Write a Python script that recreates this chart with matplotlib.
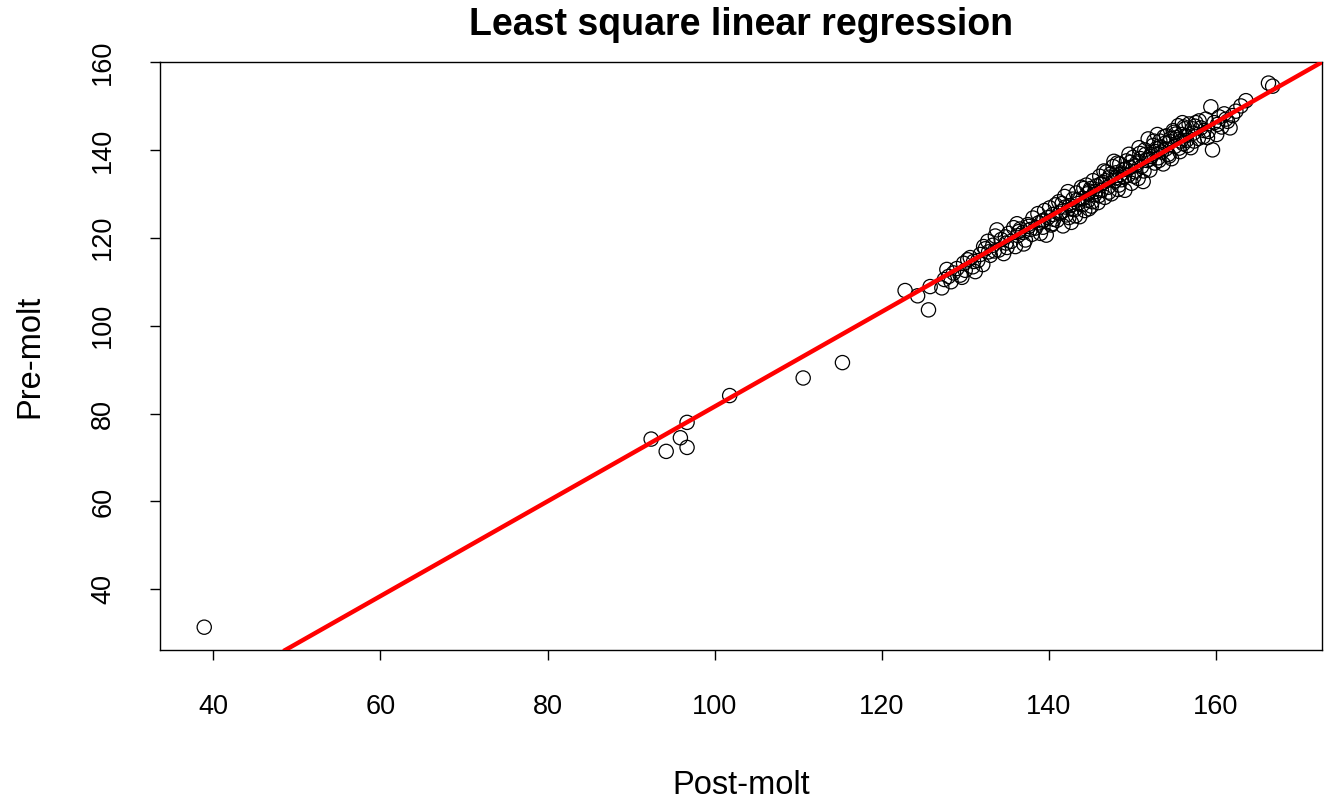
import numpy as np
import matplotlib.pyplot as plt

plt.rcParams['font.family'] = ['Liberation Sans', 'DejaVu Sans']

# crab molt data (post-molt size vs pre-molt size)
post_molt = [
    38.9, 92.4, 94.2, 95.9, 96.7, 96.7, 101.8, 110.6, 115.3,
    122.8, 124.3, 125.6, 125.8, 127.2,
    127.5, 127.8, 128.0, 128.3, 128.6, 129.0, 129.4, 129.8, 130.0, 130.3,
    130.6, 130.9, 131.2, 131.5, 131.8, 132.1, 132.4, 132.7, 133.0, 133.3, 133.6,
    133.8, 134.0, 134.3, 134.6, 134.9, 135.2, 135.5, 135.8, 136.0, 136.3, 136.6,
    136.9, 137.2, 137.5, 137.8, 138.1, 138.4, 138.7, 139.0, 139.2, 139.5, 139.7, 139.9,
    140.1, 140.3, 140.5, 140.8, 141.0, 141.2, 141.5, 141.7, 141.9, 142.1, 142.3, 142.5, 142.7, 142.9,
    143.1, 143.3, 143.5, 143.7, 143.9, 144.1, 144.3, 144.5, 144.7, 144.9, 145.1, 145.3, 145.5, 145.7, 145.9,
    146.1, 146.3, 146.5, 146.7, 146.9, 147.1, 147.3, 147.5, 147.7, 147.9, 148.1, 148.3, 148.5, 148.7, 148.9,
    149.1, 149.3, 149.5, 149.7, 149.9, 150.1, 150.3, 150.5, 150.7, 150.9, 151.1, 151.3, 151.5, 151.7, 151.9,
    152.1, 152.3, 152.5, 152.7, 152.9, 153.1, 153.3, 153.5, 153.7, 153.9, 154.1, 154.3, 154.5, 154.7, 154.9,
    155.1, 155.3, 155.5, 155.7, 155.9, 156.1, 156.3, 156.5, 156.8, 157.0, 157.3, 157.6, 157.9,
    158.2, 158.5, 158.8, 159.1, 159.4, 159.6, 159.8, 160.1, 160.4, 160.7, 161.0, 161.4, 161.7, 162.0,
    162.4, 163.0, 163.6, 166.3, 166.8,
    140.6, 141.3, 142.0, 142.8, 143.4, 144.0, 144.6, 145.0, 145.6, 146.2,
    146.8, 147.4, 148.0, 148.6, 149.2, 149.8, 150.4, 151.0, 151.6, 152.2,
    152.8, 153.4, 154.0, 154.6, 155.2, 155.8, 156.4, 157.2, 134.8, 136.4,
    137.6, 138.8, 139.4, 131.0, 132.8, 156.0, 157.5, 153.0, 148.2,
    138.0, 139.3, 140.4, 141.6, 142.4, 143.2, 144.2, 145.2, 146.0, 146.6,
    147.2, 147.8, 148.4, 149.0, 149.6, 150.2, 150.8, 151.4, 152.0, 152.6,
    153.2, 153.8, 154.4, 155.0, 155.6, 156.2, 156.6, 157.4, 158.0, 158.6,
    135.0, 136.2, 137.0, 133.5, 132.2, 129.6, 160.2, 161.2, 159.0, 144.8,
]
pre_molt = [
    31.4, 74.2, 71.4, 74.5, 78.0, 72.3, 84.1, 88.1, 91.6,
    108.0, 106.8, 103.6, 108.9, 108.6,
    110.5, 112.8, 111.2, 110.0, 112.0, 113.0, 111.5, 114.2, 112.6, 115.0,
    115.5, 113.4, 112.3, 114.8, 116.2, 113.9, 117.5, 119.2, 116.0, 118.3, 120.4,
    121.8, 117.2, 119.6, 116.4, 118.8, 121.0, 119.2, 122.3, 118.0, 120.5, 122.0,
    121.2, 119.5, 123.0, 121.9, 124.5, 122.2, 125.5, 121.0, 123.8, 126.2, 120.6, 124.6,
    126.8, 122.9, 125.3, 127.5, 124.0, 128.2, 126.0, 122.7, 129.4, 125.2, 130.5, 127.3, 123.5, 128.8,
    126.4, 130.2, 127.8, 124.8, 131.5, 129.0, 126.2, 132.0, 128.5, 130.6, 127.2, 133.0, 129.8, 131.8, 128.0,
    134.0, 130.8, 132.6, 129.2, 135.0, 131.5, 133.8, 130.0, 136.2, 132.9, 134.8, 131.0, 136.8, 133.2, 135.5,
    130.8, 137.5, 134.2, 136.0, 132.4, 138.3, 135.0, 137.0, 133.5, 139.2, 136.2, 132.8, 140.0, 137.6, 142.5,
    135.4, 139.0, 141.0, 137.0, 140.3, 138.2, 142.0, 139.5, 136.8, 141.5, 143.2, 139.0, 141.9, 138.0, 144.4,
    140.8, 142.8, 145.5, 139.6, 143.5, 141.4, 144.8, 142.2, 145.9, 140.5, 143.8, 146.2, 142.6,
    145.0, 143.0, 147.0, 144.2, 149.8, 140.0, 146.2, 143.5, 147.5, 145.2, 148.2, 146.5, 145.0, 147.8,
    148.8, 150.0, 151.2, 155.2, 154.5,
    124.2, 125.6, 127.0, 126.5, 128.6, 127.5, 130.0, 131.2, 130.5, 132.2,
    133.0, 134.5, 133.6, 134.4, 135.6, 137.2, 136.4, 138.0, 139.0, 138.5,
    139.6, 140.6, 140.2, 142.6, 143.6, 142.0, 143.2, 144.8, 120.2, 121.4,
    122.6, 123.4, 124.0, 114.6, 116.8, 146.2, 145.4, 143.5, 137.0,
    120.8, 122.4, 123.2, 127.8, 124.6, 125.0, 131.2, 128.2, 129.6, 135.2,
    130.4, 137.4, 132.0, 133.8, 139.0, 134.0, 140.5, 135.2, 137.8, 142.0,
    137.6, 143.0, 138.6, 144.0, 140.4, 145.2, 141.0, 142.0, 146.6, 144.4,
    117.8, 123.2, 118.6, 117.0, 118.0, 111.0, 145.8, 147.0, 142.8, 126.6,
]

# least squares fit as drawn in the picture
intercept = -26.2
slope = 1.078

fig = plt.figure(figsize=(13.33, 8.05), dpi=100)
ax = fig.add_axes([0.120, 0.1925, 0.8717, 0.7305])

ax.scatter(post_molt, pre_molt, s=105, facecolors='none', edgecolors='black', linewidths=0.9, zorder=2)
ax.axline((0, intercept), slope=slope, color='red', linewidth=3.2, zorder=3)

ax.set_xlim(33.6, 172.7)
ax.set_ylim(26.2, 160)
ax.set_xticks([40, 60, 80, 100, 120, 140, 160])
ax.set_yticks([40, 60, 80, 100, 120, 140, 160])
ax.tick_params(axis='both', direction='out', length=7.5, width=1, labelsize=19.5, pad=24)
for lab in ax.get_yticklabels():
    lab.set_rotation(90)
    lab.set_va('center')
for sp in ax.spines.values():
    sp.set_linewidth(1)

fig.text(0.556, 1 - 25 / 805, 'Least square linear regression', ha='center', va='center',
         fontsize=27, fontweight='bold')
fig.text(0.556, 1 - 785 / 805, 'Post-molt', ha='center', va='center', fontsize=23.5)
fig.text(30 / 1333, 1 - 356 / 805, 'Pre-molt', ha='center', va='center', fontsize=23.5, rotation=90)

fig.savefig('out.png', dpi=100)
